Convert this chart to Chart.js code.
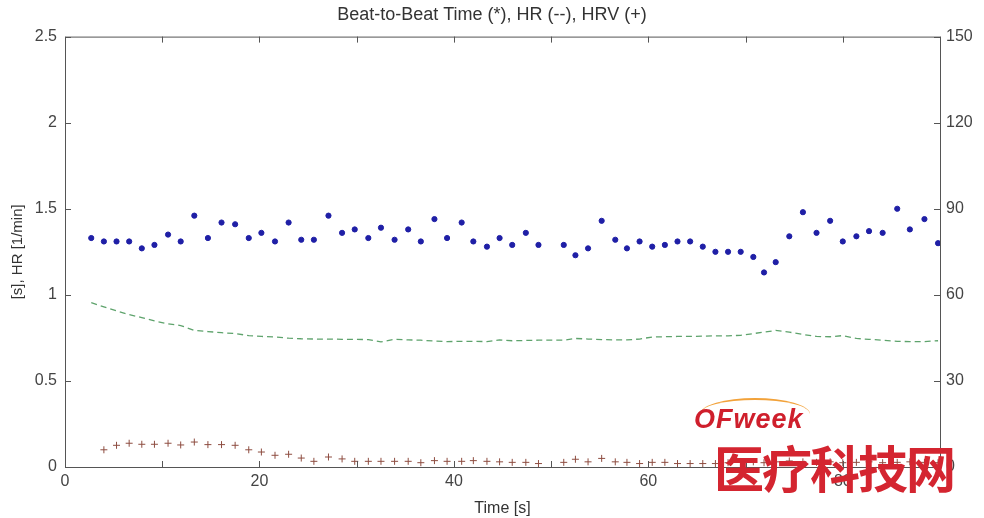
<!DOCTYPE html>
<html>
<head>
<meta charset="utf-8">
<script src="https://cdn.jsdelivr.net/npm/chart.js@4/dist/chart.umd.min.js"></script>
<style>
  body { margin: 0; background: #fff; }
  #wrap { position: relative; width: 984px; height: 518px; }
  #mark1 { position: absolute; left: 694px; top: 404px; font: italic bold 27px "Liberation Sans", Arial, sans-serif; color: #cf1f2c; letter-spacing: 1px; }
  #arc { position: absolute; left: 700px; top: 398px; width: 110px; height: 30px; border-top: 2px solid #f2a23a; border-radius: 60% 60% 0 0; }
  #mark2 { position: absolute; left: 714px; top: 430px; font: bold 50px "Noto Sans CJK SC", sans-serif; color: #d42530; letter-spacing: -2px; }
</style>
</head>
<body>
<div id="wrap">
  <canvas id="chart" width="984" height="518"></canvas>
  <div id="arc"></div>
  <div id="mark1">OFweek</div>
  <div id="mark2">医疗科技网</div>
</div>
<script>
// beat times [s]
const beatTimes = [2.7, 4.0, 5.3, 6.6, 7.9, 9.2, 10.6, 11.9, 13.3, 14.7, 16.1, 17.5, 18.9, 20.2, 21.6, 23.0, 24.3, 25.6, 27.1, 28.5, 29.8,
  31.2, 32.5, 33.9, 35.3, 36.6, 38.0, 39.3, 40.8, 42.0, 43.4, 44.7, 46.0, 47.4, 48.7, 51.3, 52.5, 53.8, 55.2, 56.6, 57.8, 59.1,
  60.4, 61.7, 63.0, 64.3, 65.6, 66.9, 68.2, 69.5, 70.8, 71.9, 73.1, 74.5, 75.9, 77.3, 78.7, 80.0, 81.4, 82.7, 84.1, 85.6, 86.9, 88.4, 89.8];

// beat-to-beat time [s] (*)
const beatToBeat = [1.33, 1.31, 1.31, 1.31, 1.27, 1.29, 1.35, 1.31, 1.46, 1.33, 1.42, 1.41, 1.33, 1.36, 1.31, 1.42, 1.32, 1.32, 1.46, 1.36, 1.38,
  1.33, 1.39, 1.32, 1.38, 1.31, 1.44, 1.33, 1.42, 1.31, 1.28, 1.33, 1.29, 1.36, 1.29, 1.29, 1.23, 1.27, 1.43, 1.32, 1.27, 1.31,
  1.28, 1.29, 1.31, 1.31, 1.28, 1.25, 1.25, 1.25, 1.22, 1.13, 1.19, 1.34, 1.48, 1.36, 1.43, 1.31, 1.34, 1.37, 1.36, 1.50, 1.38, 1.44, 1.30];

// HR (--), right axis
const heartRate = [57.3, 55.8, 54.4, 53.1, 52.1, 50.9, 49.9, 49.3, 47.6, 47.2, 46.8, 46.5, 45.8, 45.5, 45.3, 44.9, 44.7, 44.6, 44.6, 44.5, 44.5,
  44.4, 43.6, 44.5, 44.3, 44.2, 43.9, 43.7, 43.8, 43.8, 43.7, 44.3, 44.0, 44.1, 44.2, 44.2, 44.8, 44.6, 44.4, 44.3, 44.3, 44.6,
  45.3, 45.4, 45.5, 45.5, 45.6, 45.7, 45.7, 45.9, 46.5, 47.0, 47.6, 47.0, 46.2, 45.5, 45.4, 45.8, 44.8, 44.5, 44.2, 43.8, 43.7, 43.7, 44.0];

// HRV (+), starts at the second beat
const hrv = [null, 0.100, 0.126, 0.138, 0.132, 0.132, 0.138, 0.128, 0.145, 0.130, 0.130, 0.126, 0.100, 0.087, 0.068, 0.074, 0.052, 0.033, 0.058, 0.047, 0.033,
  0.033, 0.033, 0.033, 0.033, 0.025, 0.037, 0.033, 0.033, 0.037, 0.033, 0.030, 0.027, 0.027, 0.020, 0.027, 0.045, 0.030, 0.050, 0.030, 0.027, 0.020,
  0.027, 0.027, 0.020, 0.020, 0.020, 0.020, 0.025, 0.027, 0.030, 0.025, 0.030, 0.035, 0.030, 0.027, 0.030, 0.025, 0.027, 0.030, 0.025, 0.027, 0.030, 0.027, 0.025];

const xTicks = [0, 20, 40, 60, 80];

function pairs(xs, ys) {
    return xs.map((x, i) => ({ x: x, y: ys[i] })).filter(p => p.y !== null);
}

// box round the plot and inward ticks, like a MATLAB axes
const boxTicks = {
    id: 'boxTicks',
    afterDraw(chart) {
        const ctx = chart.ctx;
        const a = chart.chartArea;
        const len = 6;
        ctx.save();
        ctx.strokeStyle = '#555';
        ctx.lineWidth = 1;
        ctx.beginPath();
        ctx.rect(a.left + 0.5, a.top + 0.5, a.right - a.left, a.bottom - a.top);
        chart.scales.x.ticks.forEach(t => {
            const px = Math.round(chart.scales.x.getPixelForValue(t.value)) + 0.5;
            ctx.moveTo(px, a.bottom); ctx.lineTo(px, a.bottom - len);
            ctx.moveTo(px, a.top); ctx.lineTo(px, a.top + len);
        });
        chart.scales.y.ticks.forEach(t => {
            const py = Math.round(chart.scales.y.getPixelForValue(t.value)) + 0.5;
            ctx.moveTo(a.left, py); ctx.lineTo(a.left + len, py);
        });
        chart.scales.y1.ticks.forEach(t => {
            const py = Math.round(chart.scales.y1.getPixelForValue(t.value)) + 0.5;
            ctx.moveTo(a.right, py); ctx.lineTo(a.right - len, py);
        });
        ctx.stroke();
        ctx.restore();
    }
};

const tickFont = { family: '"Liberation Sans", Arial, sans-serif', size: 16 };

const config = {
    type: 'scatter',
    data: {
        datasets: [{
            label: 'Beat-to-Beat Time',
            data: pairs(beatTimes, beatToBeat),
            yAxisID: 'y',
            pointStyle: 'circle',
            pointRadius: 2.6,
            backgroundColor: '#1f1fa6',
            borderColor: '#1f1fa6',
            showLine: false
        }, {
            label: 'HR',
            data: pairs(beatTimes, heartRate),
            yAxisID: 'y1',
            showLine: true,
            pointRadius: 0,
            borderColor: '#5ea36c',
            borderWidth: 1.3,
            borderDash: [6, 4]
        }, {
            label: 'HRV',
            data: pairs(beatTimes, hrv),
            yAxisID: 'y',
            pointStyle: 'cross',
            pointRadius: 3.5,
            borderWidth: 1,
            borderColor: '#8e4d40',
            showLine: false
        }]
    },
    options: {
        responsive: false,
        animation: false,
        layout: { padding: 0 },
        plugins: {
            legend: { display: false },
            tooltip: { enabled: false },
            title: {
                display: true,
                text: 'Beat-to-Beat Time (*), HR (--), HRV (+)',
                color: '#333',
                font: { family: tickFont.family, size: 18, weight: 'normal' },
                padding: { top: 4, bottom: 11 }
            }
        },
        scales: {
            x: {
                type: 'linear',
                min: 0,
                max: 90,
                grid: { display: false, drawTicks: false },
                border: { display: false },
                afterBuildTicks: s => { s.ticks = [0, 10, 20, 30, 40, 50, 60, 70, 80, 90].map(v => ({ value: v })); },
                ticks: {
                    color: '#444',
                    font: tickFont,
                    padding: 5,
                    maxRotation: 0,
                    autoSkip: false,
                    callback: v => xTicks.includes(v) ? v : ''
                },
                title: { display: true, text: 'Time [s]', color: '#333', font: tickFont, padding: { top: 0, bottom: 0 } },
                afterFit: s => { s.height = 51; }
            },
            y: {
                position: 'left',
                min: 0,
                max: 2.5,
                grid: { display: false, drawTicks: false },
                border: { display: false },
                ticks: { stepSize: 0.5, color: '#444', font: tickFont, padding: 8, callback: v => String(v) },
                title: { display: true, text: '[s], HR [1/min]', color: '#333', font: { family: tickFont.family, size: 15 }, padding: { top: 9, bottom: 0 } },
                afterFit: s => { s.width = 65; }
            },
            y1: {
                position: 'right',
                min: 0,
                max: 150,
                grid: { display: false, drawTicks: false },
                border: { display: false },
                ticks: { stepSize: 30, color: '#444', font: tickFont, padding: 6 },
                afterFit: s => { s.width = 44; }
            }
        }
    },
    plugins: [boxTicks]
};

const ctx = document.getElementById('chart').getContext('2d');
const myChart = new Chart(ctx, config);
</script>
</body>
</html>
